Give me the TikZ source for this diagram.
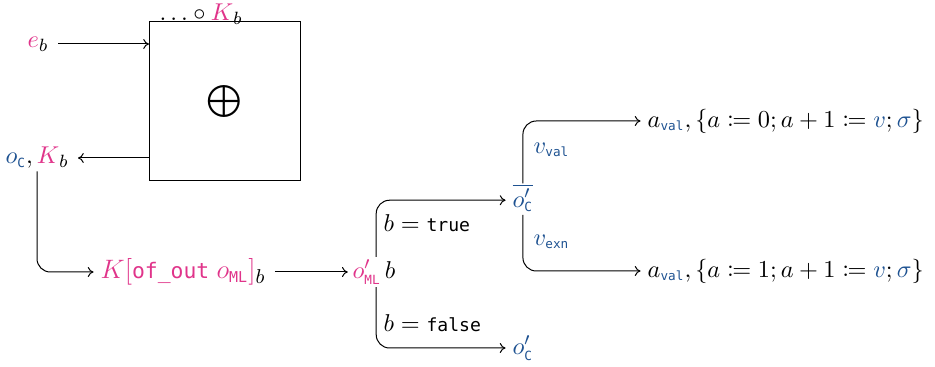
\documentclass[tikz,border=0pt]{standalone}
\usepackage{mathtools}
\usepackage{fontspec}
\newfontfamily\codefont{DejaVu Sans Mono}[Scale=0.74]
\usetikzlibrary{arrows.meta}
\definecolor{pk}{RGB}{224,52,138}
\definecolor{bl}{RGB}{30,82,145}
\newcommand{\cd}[1]{\text{\codefont #1}}
\begin{document}
\begin{tikzpicture}[x=0.45pt,y=-0.45pt,
  conn/.style={draw, line width=0.45pt, -{To[length=2.6pt,width=4.5pt]}},
  rc/.style={rounded corners=6pt},
  every node/.style={inner sep=1pt, font=\fontsize{11}{13}\selectfont}]
\useasboundingbox (0,0) rectangle (935,367);
% box
\node[draw, line width=0.45pt, minimum width=151*0.45pt, minimum height=159*0.45pt, inner sep=0pt] (box) at (224.5,101.5) {};
\node[font=\Large] (oplus) at (224,102) {$\bigoplus$};
\node[anchor=base, inner sep=0pt] (top) at (201,20.5) {$\ldots\circ\textcolor{pk}{K}_b$};
\node (eb) at (38,44) {$\textcolor{pk}{e}_b$};
\node (ocK) at (37,158) {$\textcolor{bl}{o_{\cd{C}}},\textcolor{pk}{K}_b$};
\coordinate (boxin) at (149,44);
\coordinate (boxout) at (149,158);
\draw[conn] (58,44) -- (boxin);
\draw[conn] (boxout) -- (78,158);
% second row
\node[anchor=west, font=\fontsize{13}{15}\selectfont] (Kof) at (98,272) {$\textcolor{pk}{K[\cd{of\_out}\;o_{\cd{ML}}]}_b$};
\node[anchor=west] (oml) at (350,272) {$\textcolor{pk}{o'_{\cd{ML}}}\,b$};
\draw[conn, rc] (ocK.south) |- ([xshift=-2pt]Kof.west);
\draw[conn] ([xshift=3pt]Kof.east) -- ([xshift=-1pt]oml.west);
% branches
\node[anchor=west] (ocbar) at (510,198) {$\textcolor{bl}{\overline{o'_{\cd{C}}}}$};
\node[anchor=west] (ocb) at (510,348) {$\textcolor{bl}{o'_{\cd{C}}}$};
\draw[conn, rc] ([xshift=1pt,yshift=0pt]oml.north) |- ([yshift=-1pt,xshift=-2pt]ocbar.west);
\draw[conn, rc] ([xshift=1pt]oml.south) |- ([xshift=-2pt]ocb.west);
\node[anchor=west] (btrue) at (381,223) {$b = \cd{true}$};
\node[anchor=west] (bfalse) at (381,323) {$b = \cd{false}$};
% right
\node[anchor=west] (r1) at (645,121) {$a_{\textcolor{bl}{\cd{val}}},\{a \coloneqq 0; a+1 \coloneqq \textcolor{bl}{v}; \textcolor{bl}{\sigma}\}$};
\node[anchor=west] (r2) at (645,271) {$a_{\textcolor{bl}{\cd{val}}},\{a \coloneqq 1; a+1 \coloneqq \textcolor{bl}{v}; \textcolor{bl}{\sigma}\}$};
\draw[conn, rc] ([yshift=-1pt]ocbar.north) |- ([xshift=-2pt]r1.west);
\draw[conn, rc] (ocbar.south) |- ([xshift=-2pt]r2.west);
\node[anchor=west] (vval) at (531,150) {$\textcolor{bl}{v_{\cd{val}}}$};
\node[anchor=west] (vexn) at (531,242) {$\textcolor{bl}{v_{\cd{exn}}}$};
\end{tikzpicture}
\end{document}
